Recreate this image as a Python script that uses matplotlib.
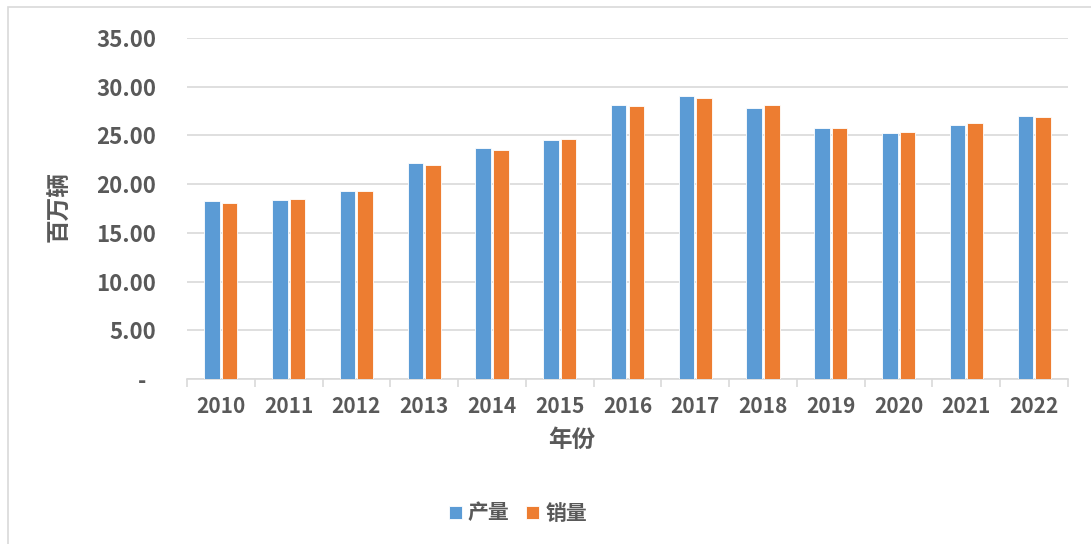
import matplotlib
matplotlib.use("Agg")
import matplotlib.pyplot as plt
import numpy as np
from matplotlib.patches import Rectangle

plt.rcParams['font.family'] = ['Noto Sans CJK SC', 'DejaVu Sans']

years = ['2010', '2011', '2012', '2013', '2014', '2015', '2016', '2017', '2018', '2019', '2020', '2021', '2022']
production = [18.26, 18.42, 19.27, 22.12, 23.72, 24.50, 28.12, 29.02, 27.81, 25.72, 25.22, 26.08, 27.02]
sales = [18.06, 18.51, 19.31, 21.98, 23.49, 24.60, 28.03, 28.88, 28.08, 25.77, 25.31, 26.27, 26.86]
yticks = [0, 5, 10, 15, 20, 25, 30, 35]
ytick_labels = ['-  ', '5.00', '10.00', '15.00', '20.00', '25.00', '30.00', '35.00']

W, H = 1091, 544
fig = plt.figure(figsize=(W / 100, H / 100), dpi=100)
fig.patch.set_facecolor('white')
fig.patches.append(Rectangle((8 / W, -0.1), 1.2, 1 - 7 / H + 0.1, transform=fig.transFigure,
                             fill=False, edgecolor='#D9D9D9', linewidth=1.2))

ax = fig.add_axes([187 / W, 1 - 379 / H, (1068 - 187) / W, (379 - 38) / H])
x = np.arange(len(years))
bw = 0.23
gap = 0.03
blue = '#5B9BD5'
orange = '#ED7D31'
ax.bar(x - bw / 2 - gap / 2, production, bw, color=blue, edgecolor='white', linewidth=0.6, label='产量', zorder=3)
ax.bar(x + bw / 2 + gap / 2, sales, bw, color=orange, edgecolor='white', linewidth=0.6, label='销量', zorder=3)

ax.set_xlim(-0.5, len(years) - 0.5)
ax.set_ylim(0, 35)
ax.set_yticks(yticks)
ax.set_yticklabels(ytick_labels)
ax.yaxis.grid(True, color='#D9D9D9', linewidth=1.2, zorder=0)
ax.set_axisbelow(True)
for s in ['top', 'right', 'left']:
    ax.spines[s].set_visible(False)
ax.spines['bottom'].set_color('#D9D9D9')
ax.spines['bottom'].set_linewidth(1.2)
ax.tick_params(axis='y', length=0, pad=22, labelsize=16, labelcolor='#595959')
ax.set_xticks(x)
ax.set_xticklabels(years)
ax.set_xticks(np.arange(-0.5, len(years), 1), minor=True)
ax.tick_params(axis='x', which='major', length=0, pad=12, labelsize=15, labelcolor='#595959')
ax.tick_params(axis='x', which='minor', length=6, color='#D9D9D9', width=1.2)
for lab in ax.get_xticklabels() + ax.get_yticklabels():
    lab.set_fontweight('bold')

fig.text(58 / W, 1 - 207 / H, '百万辆', rotation=90, ha='center', va='center',
         fontsize=17, color='#595959', fontweight='bold')
fig.text(572 / W, 1 - 440 / H, '年份', ha='center', va='center',
         fontsize=17, color='#595959', fontweight='bold')

leg = fig.legend(loc='center', bbox_to_anchor=(518 / W, 1 - 513 / H), ncol=2, frameon=False,
                 fontsize=15, handlelength=0.6, handleheight=0.6, handletextpad=0.3, columnspacing=0.8)
for t in leg.get_texts():
    t.set_color('#595959')
    t.set_fontweight('bold')

fig.savefig('out.png', dpi=100)
